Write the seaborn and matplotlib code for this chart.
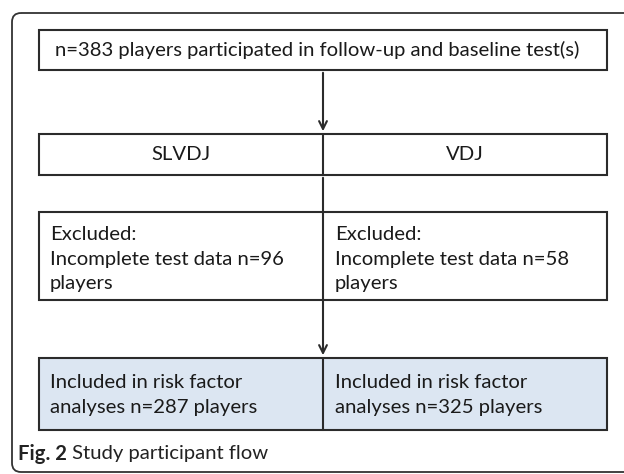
import matplotlib
matplotlib.use("Agg")
import matplotlib.pyplot as plt
import seaborn as sns
from matplotlib.patches import Rectangle, FancyBboxPatch

# --- flow chart content ---
top_text = "n=383 players participated in follow-up and baseline test(s)"
test_names = ["SLVDJ", "VDJ"]
excluded_text = ["Excluded:\nIncomplete test data n=96\nplayers",
                 "Excluded:\nIncomplete test data n=58\nplayers"]
included_text = ["Included in risk factor\nanalyses n=287 players",
                 "Included in risk factor\nanalyses n=325 players"]
caption_bold = "Fig. 2"
caption_rest = " Study participant flow"

sns.set_theme(style="white")
plt.rcParams['font.family'] = ['Lato', 'DejaVu Sans']

W, H = 624, 474
fig = plt.figure(figsize=(W / 100, H / 100), dpi=100)
ax = fig.add_axes([0, 0, 1, 1])
ax.set_xlim(0, W)
ax.set_ylim(H, 0)
ax.axis('off')

edge = '#2b2b2b'
txt = '#1a1a1a'
fs = 14.6
lw = 1.5

# outer frame (runs off the right side)
ax.add_patch(FancyBboxPatch((12, 13), 700, 459, boxstyle="round,pad=0,rounding_size=9",
                            fill=False, ec='#333333', lw=1.3))

left, right, mid = 39, 607, 323

# top box
ax.add_patch(Rectangle((left, 30), right - left, 40, fill=False, ec=edge, lw=lw))
ax.text(317, 50, top_text, ha='center', va='center', fontsize=fs, color=txt)

# arrow to test box
ax.annotate('', xy=(mid, 134), xytext=(mid, 70),
            arrowprops=dict(arrowstyle='->', color=edge, lw=lw, mutation_scale=14))

# test box (SLVDJ / VDJ)
ax.add_patch(Rectangle((left, 134), right - left, 41, fill=False, ec=edge, lw=lw))
ax.plot([mid, mid], [134, 175], color=edge, lw=lw)
for cx, name in zip([(left + mid) / 2, (mid + right) / 2], test_names):
    ax.text(cx, 155, name, ha='center', va='center', fontsize=fs, color=txt)

# long arrow through excluded box down to included box
ax.annotate('', xy=(mid, 358), xytext=(mid, 175),
            arrowprops=dict(arrowstyle='->', color=edge, lw=lw, mutation_scale=14))

# excluded box
ax.add_patch(Rectangle((left, 212), right - left, 88, fill=False, ec=edge, lw=lw))
for x0, s in zip([left + 11, mid + 12], excluded_text):
    ax.text(x0, 259, s, ha='left', va='center', fontsize=fs, color=txt, linespacing=1.55)

# included box
ax.add_patch(Rectangle((left, 358), right - left, 72, fc='#dce6f2', ec=edge, lw=lw, zorder=0))
ax.plot([mid, mid], [358, 430], color=edge, lw=lw)
for x0, s in zip([left + 11, mid + 12], included_text):
    ax.text(x0, 395, s, ha='left', va='center', fontsize=fs, color=txt, linespacing=1.6)

# caption
t1 = ax.text(18, 454, caption_bold, ha='left', va='center', fontsize=fs, fontweight='bold', color='#222222')
fig.canvas.draw()
bb = t1.get_window_extent()
ax.text(18 + bb.width, 454, caption_rest, ha='left', va='center', fontsize=fs, color='#222222')

fig.savefig('out.png', dpi=100, facecolor='white')
